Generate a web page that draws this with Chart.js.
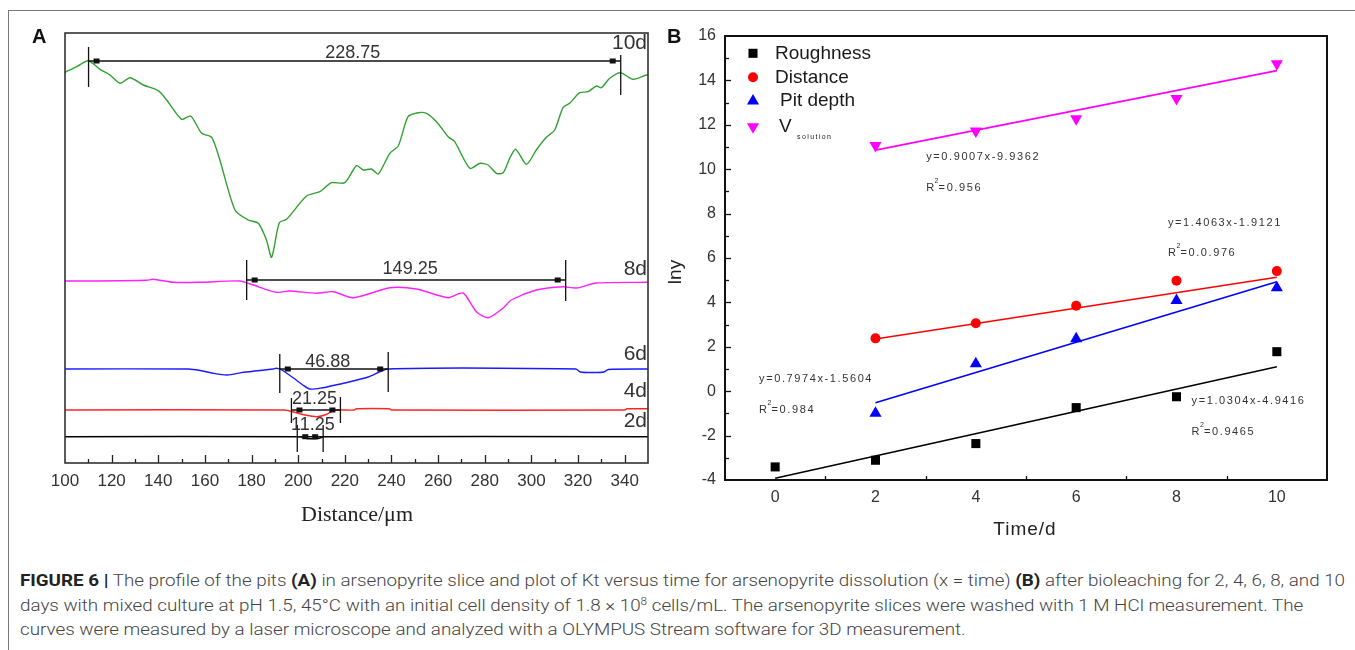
<!DOCTYPE html>
<html><head><meta charset="utf-8">
<script src="https://cdn.jsdelivr.net/npm/chart.js@4.4.1/dist/chart.umd.min.js"></script>
<style>
html,body{margin:0;padding:0;background:#fff;width:1355px;height:650px;overflow:hidden;position:relative;font-family:"Liberation Sans",Arial,sans-serif}
#frame{position:absolute;left:8px;top:10px;width:1400px;height:700px;border-left:1px solid #777;border-top:1px solid #777}
#cA{position:absolute;left:0;top:0}
#cB{position:absolute;left:660px;top:0}
.lab{position:absolute;font-weight:bold;font-size:20px;line-height:23px;color:#111}
#cap{position:absolute;left:20px;top:569px;color:#444;font-family:Roboto,"Liberation Sans",sans-serif;font-weight:300;font-size:16px;line-height:24.5px;white-space:nowrap}
#cap div{transform-origin:0 0;height:24.5px}
#cap span{display:inline-block}
#cap b{font-weight:700;color:#222}
#cap sup{font-size:10px;line-height:0;vertical-align:6px}
</style></head>
<body>
<div id="frame"></div>
<canvas id="cA" width="660" height="545"></canvas>
<canvas id="cB" width="695" height="545"></canvas>
<div class="lab" style="left:32px;top:25px">A</div>
<div class="lab" style="left:667px;top:25px">B</div>
<div id="cap">
<div><span id="l1"><b>FIGURE 6 |</b> The profile of the pits <b>(A)</b> in arsenopyrite slice and plot of Kt versus time for arsenopyrite dissolution (x = time) <b>(B)</b> after bioleaching for 2, 4, 6, 8, and 10</span></div>
<div><span>days with mixed culture at pH 1.5, 45°C with an initial cell density of 1.8 × 10<sup>8</sup> cells/mL. The arsenopyrite slices were washed with 1 M HCl measurement. The</span></div>
<div><span>curves were measured by a laser microscope and analyzed with a OLYMPUS Stream software for 3D measurement.</span></div>
</div>
<script>
// ---------- Panel A data (profile heights, arbitrary units) ----------
const distA10 = [100,105,110,115,119.3,123.6,127.9,133.6,140,143.6,150,153.9,158.6,162.9,166.4,172.9,178.6,182.9,186.4,188.6,191.9,195,203.6,209.3,214.3,220,225,227.9,231.4,234.3,239.3,242.9,247.1,251.4,255,259.3,264.3,267.1,273.6,277.9,281.4,285,287.9,290.7,293.3,297.9,302.1,306.4,310,313.6,316.4,320.7,324.3,327.9,330,333.6,338.2,343.6,349.3,350];
const prof10d = [390.7,396.3,402.3,393.7,388,379.7,385.3,378,372.3,363,343.7,347,329.7,325.7,303,253,243,239.7,223,205.7,240.3,243.7,267,271.3,280.3,280.3,297.3,293,294,289,309.7,317,346.3,350.3,349.7,341.3,326.3,321.3,294.7,299.7,298,289.7,290.3,304.7,313.7,298.7,313,325.7,333,355.7,359.7,370.3,371.3,377,375.3,384.7,390.3,383.7,388,388];
const distA8 = [100,112.1,135,137.9,146.4,157.9,175,180.7,190.7,196.4,207.9,215,223.6,239.3,250.7,264.3,270.7,276.4,281.4,287.9,291.4,302.1,313.6,319.3,327.9,349.3,350];
const prof8d = [182,182,182.7,183.7,180.7,180.7,182,178,170.7,172,169.7,171.3,165.3,175.3,174,165.3,170,151.3,145.3,155,163,173,176.3,175,180,180.7,180.7];
const distA6 = [100,152.8,158,163,169.5,176.6,189.3,190.7,193,198,202,205,210,215,220,230,238.6,319,321,327,331,333,350];
const prof6d = [94,94,92.5,90,88,90.7,94,94.7,93,85,78,74,75,77.5,80,86,94,94,91,90.5,91,93.5,94];
const distA4 = [100,194,198,203,207.9,212,215,218,224,225,239,240,340,341,350];
const prof4d = [53,53,51,48,46.3,48.5,52.5,53,53,54.2,54.2,53,53,54.2,54.2];
const distA2 = [100,201,203,206,209,211,350];
const prof2d = [26.3,26.3,24.8,24.3,24.8,26.3,26.3];
const dayLabels = ['10d','8d','6d','4d','2d'];
const dayLabelY = [419.7,194,109,72,41.3];
const aTickValues = [100,120,140,160,180,200,220,240,260,280,300,320,340];
// measurement brackets
const bracketText = ['228.75','149.25','46.88','21.25','11.25'];
const bracketX1 = [110.1,177.9,192.1,197.1,199.6];
const bracketX2 = [338.3,314.7,238.6,218.1,210.7];
const bracketLevel = [402,183,94,53,26.3];
const bracketTickL = [[416,376],[203,163],[109,70],[65,40],[38,11]];
const bracketTickR = [[408,368],[203,162],[111,71],[66,40],[38,11]];
const bracketTextX = [223.4,248,212.7,207,206.3];
const bracketTextY = [410,194,101.3,64,38];

// ---------- Panel B data ----------
const timeRough = [0,2,4,6,8,10];
const roughness = [-3.41,-3.11,-2.36,-0.74,-0.25,1.78];
const timeOther = [2,4,6,8,10];
const distance = [2.38,3.06,3.85,4.98,5.41];
const pitDepth = [-0.99,1.24,2.36,4.09,4.66];
const vSolution = [11.07,11.72,12.27,13.19,14.75];
const fitRoughX = [0,10], fitRoughY = [-3.92,1.10];
const fitDistX = [2,10], fitDistY = [2.35,5.13];
const fitPitX = [2,10], fitPitY = [-0.52,4.93];
const fitVX = [2,10], fitVY = [10.86,14.44];
const bXTicks = [0,2,4,6,8,10];
const bYTicks = [-4,-2,0,2,4,6,8,10,12,14,16];
const seriesNames = ['Roughness','Distance','Pit depth','V'];
const eqText = ['y=0.9007x-9.9362','y=1.4063x-1.9121','y=0.7974x-1.5604','y=1.0304x-4.9416'];
const r2Text = ['=0.956','=0.0.976','=0.984','=0.9465'];
const eqX = [3.01,7.83,-0.32,8.3];
const eqY = [10.54,7.6,0.53,-0.44];
const r2Y = [9.15,6.23,-0.86,-1.82];

Chart.defaults.font.family = '"Liberation Sans", Arial, sans-serif';
function mk(xs, ys){ return xs.map((v,i)=>({x:v, y:ys[i]})); }

// ---------- Panel A ----------
const profiles = [
  {xs:distA10, ys:prof10d, color:'#33a033'},
  {xs:distA8, ys:prof8d, color:'#ff20ff'},
  {xs:distA6, ys:prof6d, color:'#1a1aff'},
  {xs:distA4, ys:prof4d, color:'#ff2525'},
  {xs:distA2, ys:prof2d, color:'#000000'}
];
const panelAPlugin = {
  id:'panelA',
  afterDatasetsDraw(chart){
    const {ctx, chartArea:ca, scales:{x, y}} = chart;
    ctx.save();
    ctx.strokeStyle = '#222'; ctx.lineWidth = 1.3;
    for (let v = 110; v < 350; v += 10) {
      const px = Math.round(x.getPixelForValue(v)) + 0.5;
      const len = (v % 20 === 0) ? 8 : 4;
      ctx.beginPath(); ctx.moveTo(px, ca.bottom); ctx.lineTo(px, ca.bottom - len); ctx.stroke();
    }
    ctx.lineWidth = 1.6; ctx.strokeStyle = '#333';
    ctx.strokeRect(ca.left, ca.top, ca.width, ca.height);
    ctx.strokeStyle = '#111'; ctx.fillStyle = '#111';
    for (let i = 0; i < bracketText.length; i++) {
      const x1 = x.getPixelForValue(bracketX1[i]), x2 = x.getPixelForValue(bracketX2[i]);
      const yy = y.getPixelForValue(bracketLevel[i]);
      ctx.lineWidth = 1.4;
      ctx.beginPath(); ctx.moveTo(x1, yy); ctx.lineTo(x2, yy); ctx.stroke();
      ctx.lineWidth = 1.3;
      ctx.beginPath();
      ctx.moveTo(x1, y.getPixelForValue(bracketTickL[i][0])); ctx.lineTo(x1, y.getPixelForValue(bracketTickL[i][1]));
      ctx.moveTo(x2, y.getPixelForValue(bracketTickR[i][0])); ctx.lineTo(x2, y.getPixelForValue(bracketTickR[i][1]));
      ctx.stroke();
      ctx.fillRect(x1 + 5, yy - 2.5, 6, 5);
      ctx.fillRect(x2 - 11, yy - 2.5, 6, 5);
      ctx.fillStyle = '#333';
      ctx.font = '18px "Liberation Sans", Arial, sans-serif';
      ctx.textAlign = 'center'; ctx.textBaseline = 'middle';
      ctx.fillText(bracketText[i], x.getPixelForValue(bracketTextX[i]), y.getPixelForValue(bracketTextY[i]));
      ctx.fillStyle = '#111';
    }
    ctx.fillStyle = '#333';
    ctx.font = '21px "Liberation Sans", Arial, sans-serif';
    ctx.textAlign = 'right'; ctx.textBaseline = 'middle';
    for (let i = 0; i < dayLabels.length; i++) {
      ctx.fillText(dayLabels[i], ca.right - 1, y.getPixelForValue(dayLabelY[i]));
    }
    ctx.fillStyle = '#222';
    ctx.font = '22px "Liberation Serif", "Times New Roman", serif';
    ctx.textAlign = 'center'; ctx.textBaseline = 'middle';
    ctx.fillText('Distance/\u03bcm', (ca.left + ca.right) / 2 + 0.5, 515);
    ctx.restore();
  }
};
new Chart(document.getElementById('cA'), {
  type:'scatter',
  data:{datasets: profiles.map(p=>({data:mk(p.xs,p.ys), showLine:true, borderColor:p.color, backgroundColor:p.color, borderWidth:1.4, pointRadius:0, tension:0.25, fill:false}))},
  options:{
    responsive:false, animation:false, devicePixelRatio:1,
    layout:{padding:{left:65, top:33, right:12, bottom:0}},
    plugins:{legend:{display:false}, tooltip:{enabled:false}},
    scales:{
      x:{type:'linear', min:100, max:350, position:'bottom',
        grid:{display:false, drawTicks:false}, border:{display:false},
        afterBuildTicks:s=>{ s.ticks = aTickValues.map(v=>({value:v})); },
        afterFit:s=>{ s.height = 82; },
        ticks:{autoSkip:false, maxRotation:0, padding:8, color:'#333', font:{size:17}}},
      y:{type:'linear', display:false, min:0, max:430}
    }
  },
  plugins:[panelAPlugin]
});

// ---------- Panel B ----------
const markerSets = [
  {xs:timeRough, ys:roughness, color:'#000000', style:'rect', rot:0, r:6.4},
  {xs:timeOther, ys:distance, color:'#ff0000', style:'circle', rot:0, r:5},
  {xs:timeOther, ys:pitDepth, color:'#0000ff', style:'triangle', rot:0, r:7},
  {xs:timeOther, ys:vSolution, color:'#ff00ff', style:'triangle', rot:180, r:7}
];
const fitSets = [
  {xs:fitRoughX, ys:fitRoughY, color:'#000000'},
  {xs:fitDistX, ys:fitDistY, color:'#ff0000'},
  {xs:fitPitX, ys:fitPitY, color:'#0000ff'},
  {xs:fitVX, ys:fitVY, color:'#ff00ff'}
];
function drawMarker(ctx, m, cx, cy){
  ctx.fillStyle = m.color;
  ctx.beginPath();
  if (m.style === 'rect') {
    const s = Math.SQRT1_2 * m.r; ctx.rect(cx - s, cy - s, 2*s, 2*s);
  } else if (m.style === 'circle') {
    ctx.arc(cx, cy, m.r, 0, Math.PI*2);
  } else {
    let rad = m.rot * Math.PI / 180;
    for (let k = 0; k < 3; k++) {
      const px = cx + Math.sin(rad) * m.r, py = cy - Math.cos(rad) * m.r;
      if (k === 0) ctx.moveTo(px, py); else ctx.lineTo(px, py);
      rad += 2*Math.PI/3;
    }
    ctx.closePath();
  }
  ctx.fill();
}
const panelBPlugin = {
  id:'panelB',
  afterDatasetsDraw(chart){
    const {ctx, chartArea:ca, scales:{x, y}} = chart;
    ctx.save();
    ctx.strokeStyle = '#111'; ctx.lineWidth = 1.3;
    for (let v = -3; v < 16; v++) {
      const py = Math.round(y.getPixelForValue(v)) + 0.5;
      const len = (v % 2 === 0) ? 6 : 4;
      ctx.beginPath(); ctx.moveTo(ca.left, py); ctx.lineTo(ca.left + len, py); ctx.stroke();
    }
    for (let v = 1; v < 11; v += 2) {
      const px = Math.round(x.getPixelForValue(v)) + 0.5;
      ctx.beginPath(); ctx.moveTo(px, ca.bottom); ctx.lineTo(px, ca.bottom - 4); ctx.stroke();
    }
    ctx.lineWidth = 2; ctx.strokeStyle = '#111';
    ctx.strokeRect(ca.left, ca.top, ca.width, ca.height);
    ctx.fillStyle = '#333'; ctx.textAlign = 'left'; ctx.textBaseline = 'middle';
    for (let i = 0; i < eqText.length; i++) {
      const x0 = x.getPixelForValue(eqX[i]);
      ctx.font = '11px "Liberation Sans", Arial, sans-serif';
      ctx.letterSpacing = '1.6px';
      ctx.fillText(eqText[i], x0, y.getPixelForValue(eqY[i]));
      const yr = y.getPixelForValue(r2Y[i]);
      ctx.letterSpacing = '0px';
      ctx.fillText('R', x0, yr);
      const wR = ctx.measureText('R').width;
      ctx.font = '7px "Liberation Sans", Arial, sans-serif';
      ctx.fillText('2', x0 + wR + 0.5, yr - 7);
      ctx.font = '11px "Liberation Sans", Arial, sans-serif';
      ctx.letterSpacing = '1.6px';
      ctx.fillText(r2Text[i], x0 + wR + 4.5, yr);
    }
    ctx.letterSpacing = '0px';
    const legX = 93, legTextX = [115,115,120,119], legY = [53.3,77.3,101,126.7];
    for (let i = 0; i < markerSets.length; i++) {
      drawMarker(ctx, markerSets[i], legX, legY[i]);
      ctx.fillStyle = '#1a1a1a';
      ctx.font = '19px "Liberation Sans", Arial, sans-serif';
      ctx.fillText(seriesNames[i], legTextX[i], legY[i]);
    }
    ctx.font = '7px "Liberation Sans", Arial, sans-serif';
    ctx.letterSpacing = '1.4px';
    ctx.fillText('solution', 137, 137.5);
    ctx.letterSpacing = '0px';
    ctx.fillStyle = '#222';
    ctx.font = '19px "Liberation Sans", Arial, sans-serif';
    ctx.textAlign = 'center';
    ctx.letterSpacing = '1px';
    ctx.fillText('Time/d', 365, 530);
    ctx.letterSpacing = '0px';
    ctx.translate(16, 272); ctx.rotate(-Math.PI/2);
    ctx.fillText('lny', 0, 0);
    ctx.restore();
  }
};
const bDatasets = [];
markerSets.forEach(m => bDatasets.push({data:mk(m.xs,m.ys), showLine:false, pointStyle:m.style, pointRotation:m.rot, pointRadius:m.r, pointBackgroundColor:m.color, pointBorderColor:m.color, pointBorderWidth:0, backgroundColor:m.color}));
fitSets.forEach(f => bDatasets.push({data:mk(f.xs,f.ys), showLine:true, borderColor:f.color, borderWidth:1.6, pointRadius:0, fill:false}));
new Chart(document.getElementById('cB'), {
  type:'scatter',
  data:{datasets:bDatasets},
  options:{
    responsive:false, animation:false, devicePixelRatio:1,
    layout:{padding:{left:0, top:36, right:28, bottom:0}},
    plugins:{legend:{display:false}, tooltip:{enabled:false}},
    scales:{
      x:{type:'linear', min:-1, max:11, position:'bottom',
        grid:{display:false, drawTicks:false}, border:{display:false},
        afterBuildTicks:s=>{ s.ticks = bXTicks.map(v=>({value:v})); },
        afterFit:s=>{ s.height = 65; },
        ticks:{autoSkip:false, maxRotation:0, padding:8, color:'#333', font:{size:16}}},
      y:{type:'linear', min:-4, max:16, position:'left',
        grid:{display:false, drawTicks:false}, border:{display:false},
        afterBuildTicks:s=>{ s.ticks = bYTicks.map(v=>({value:v})); },
        afterFit:s=>{ s.width = 65; },
        ticks:{autoSkip:false, padding:9, color:'#333', font:{size:16}}}
    }
  },
  plugins:[panelBPlugin]
});

(function(){
  const l1 = document.getElementById('l1');
  const w = l1.getBoundingClientRect().width;
  const sc = 1325 / w;
  document.querySelectorAll('#cap div').forEach(d => { d.style.transform = 'scaleX(' + sc + ')'; });
})();
</script>
</body></html>
